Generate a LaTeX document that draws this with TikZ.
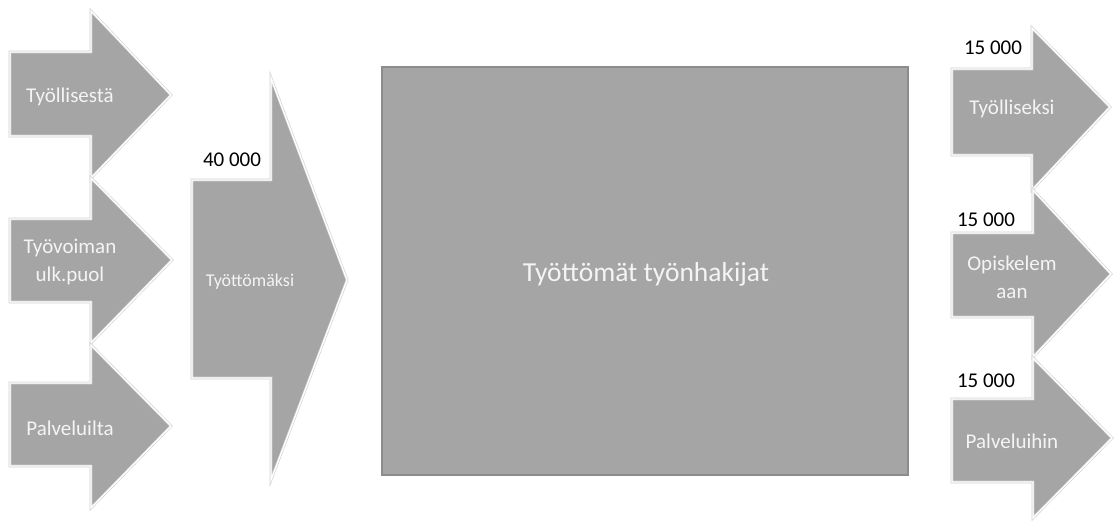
\documentclass[tikz,border=0pt]{standalone}
\usepackage{fontspec}
\setmainfont{Carlito}
\definecolor{boxgray}{HTML}{A5A5A5}
\definecolor{edgegray}{HTML}{CFCFCF}
\definecolor{rectedge}{HTML}{8C8C8C}
\definecolor{txtwhite}{HTML}{F4F4F4}
\tikzset{
  arrowbody/.style={fill=boxgray, draw=edgegray, line width=2.6pt, line join=miter},
  arrowrim/.style={draw=white, line width=1.4pt, line join=miter},
  intext/.style={text=txtwhite, font=\fontsize{21}{28}\selectfont, align=center, inner sep=0pt},
  midtext/.style={text=txtwhite, font=\fontsize{18}{22}\selectfont, inner sep=0pt},
  bigtext/.style={text=txtwhite, font=\fontsize{27.5}{33}\selectfont, inner sep=0pt},
  numtext/.style={text=black, font=\fontsize{21}{25}\selectfont, inner sep=0pt},
  bigbox/.style={fill=boxgray, draw=rectedge, line width=1.5pt},
}
% #1 body left x, #2 body top y, #3 body bottom y, #4 head base x,
% #5 head top y, #6 head bottom y, #7 tip x, #8 tip y
\newcommand{\flowarrow}[8]{%
  \path[arrowbody] (#1,#2) -- (#4,#2) -- (#4,#5) -- (#7,#8) -- (#4,#6) -- (#4,#3) -- (#1,#3) -- cycle;
  \path[arrowrim] (#1,#2) -- (#4,#2) -- (#4,#5) -- (#7,#8) -- (#4,#6) -- (#4,#3) -- (#1,#3) -- cycle;
}
\begin{document}
\begin{tikzpicture}[x=1pt, y=-1pt]
\useasboundingbox (0,0) rectangle (1114,520);
% left incoming arrows
\flowarrow{10}{52}{136}{91}{11}{178}{171}{95}
\flowarrow{10}{219}{302}{91}{178}{343}{172}{260}
\flowarrow{10}{383}{466}{91}{345}{508}{171}{426}
% middle arrow
\flowarrow{192}{180}{378}{271}{78}{480}{347}{280}
% big box
\draw[bigbox] (382,67) rectangle (908,475);
% right outgoing arrows
\flowarrow{952}{69}{155}{1032}{28}{190}{1110}{107}
\flowarrow{952}{233}{317}{1033}{190}{357}{1111}{274}
\flowarrow{952}{399}{482}{1033}{358}{518}{1112}{438}
% texts
\node[intext] (l1) at (70,97) {Työllisestä};
\node[intext] (l2) at (70,262) {Työvoiman\\ulk.puol};
\node[intext] (l3) at (70,428) {Palveluilta};
\node[midtext] (m) at (250,282) {Työttömäksi};
\node[numtext] (mn) at (232,160) {40 000};
\node[bigtext] (box) at (646,274) {Työttömät työnhakijat};
\node[intext] (r1) at (1012,109) {Työlliseksi};
\node[intext] (r2) at (1012,277) {Opiskelem\\aan};
\node[intext] (r3) at (1012,441) {Palveluihin};
\node[numtext] (n1) at (993,48) {15 000};
\node[numtext] (n2) at (986,220) {15 000};
\node[numtext] (n3) at (986,381) {15 000};
\end{tikzpicture}
\end{document}
